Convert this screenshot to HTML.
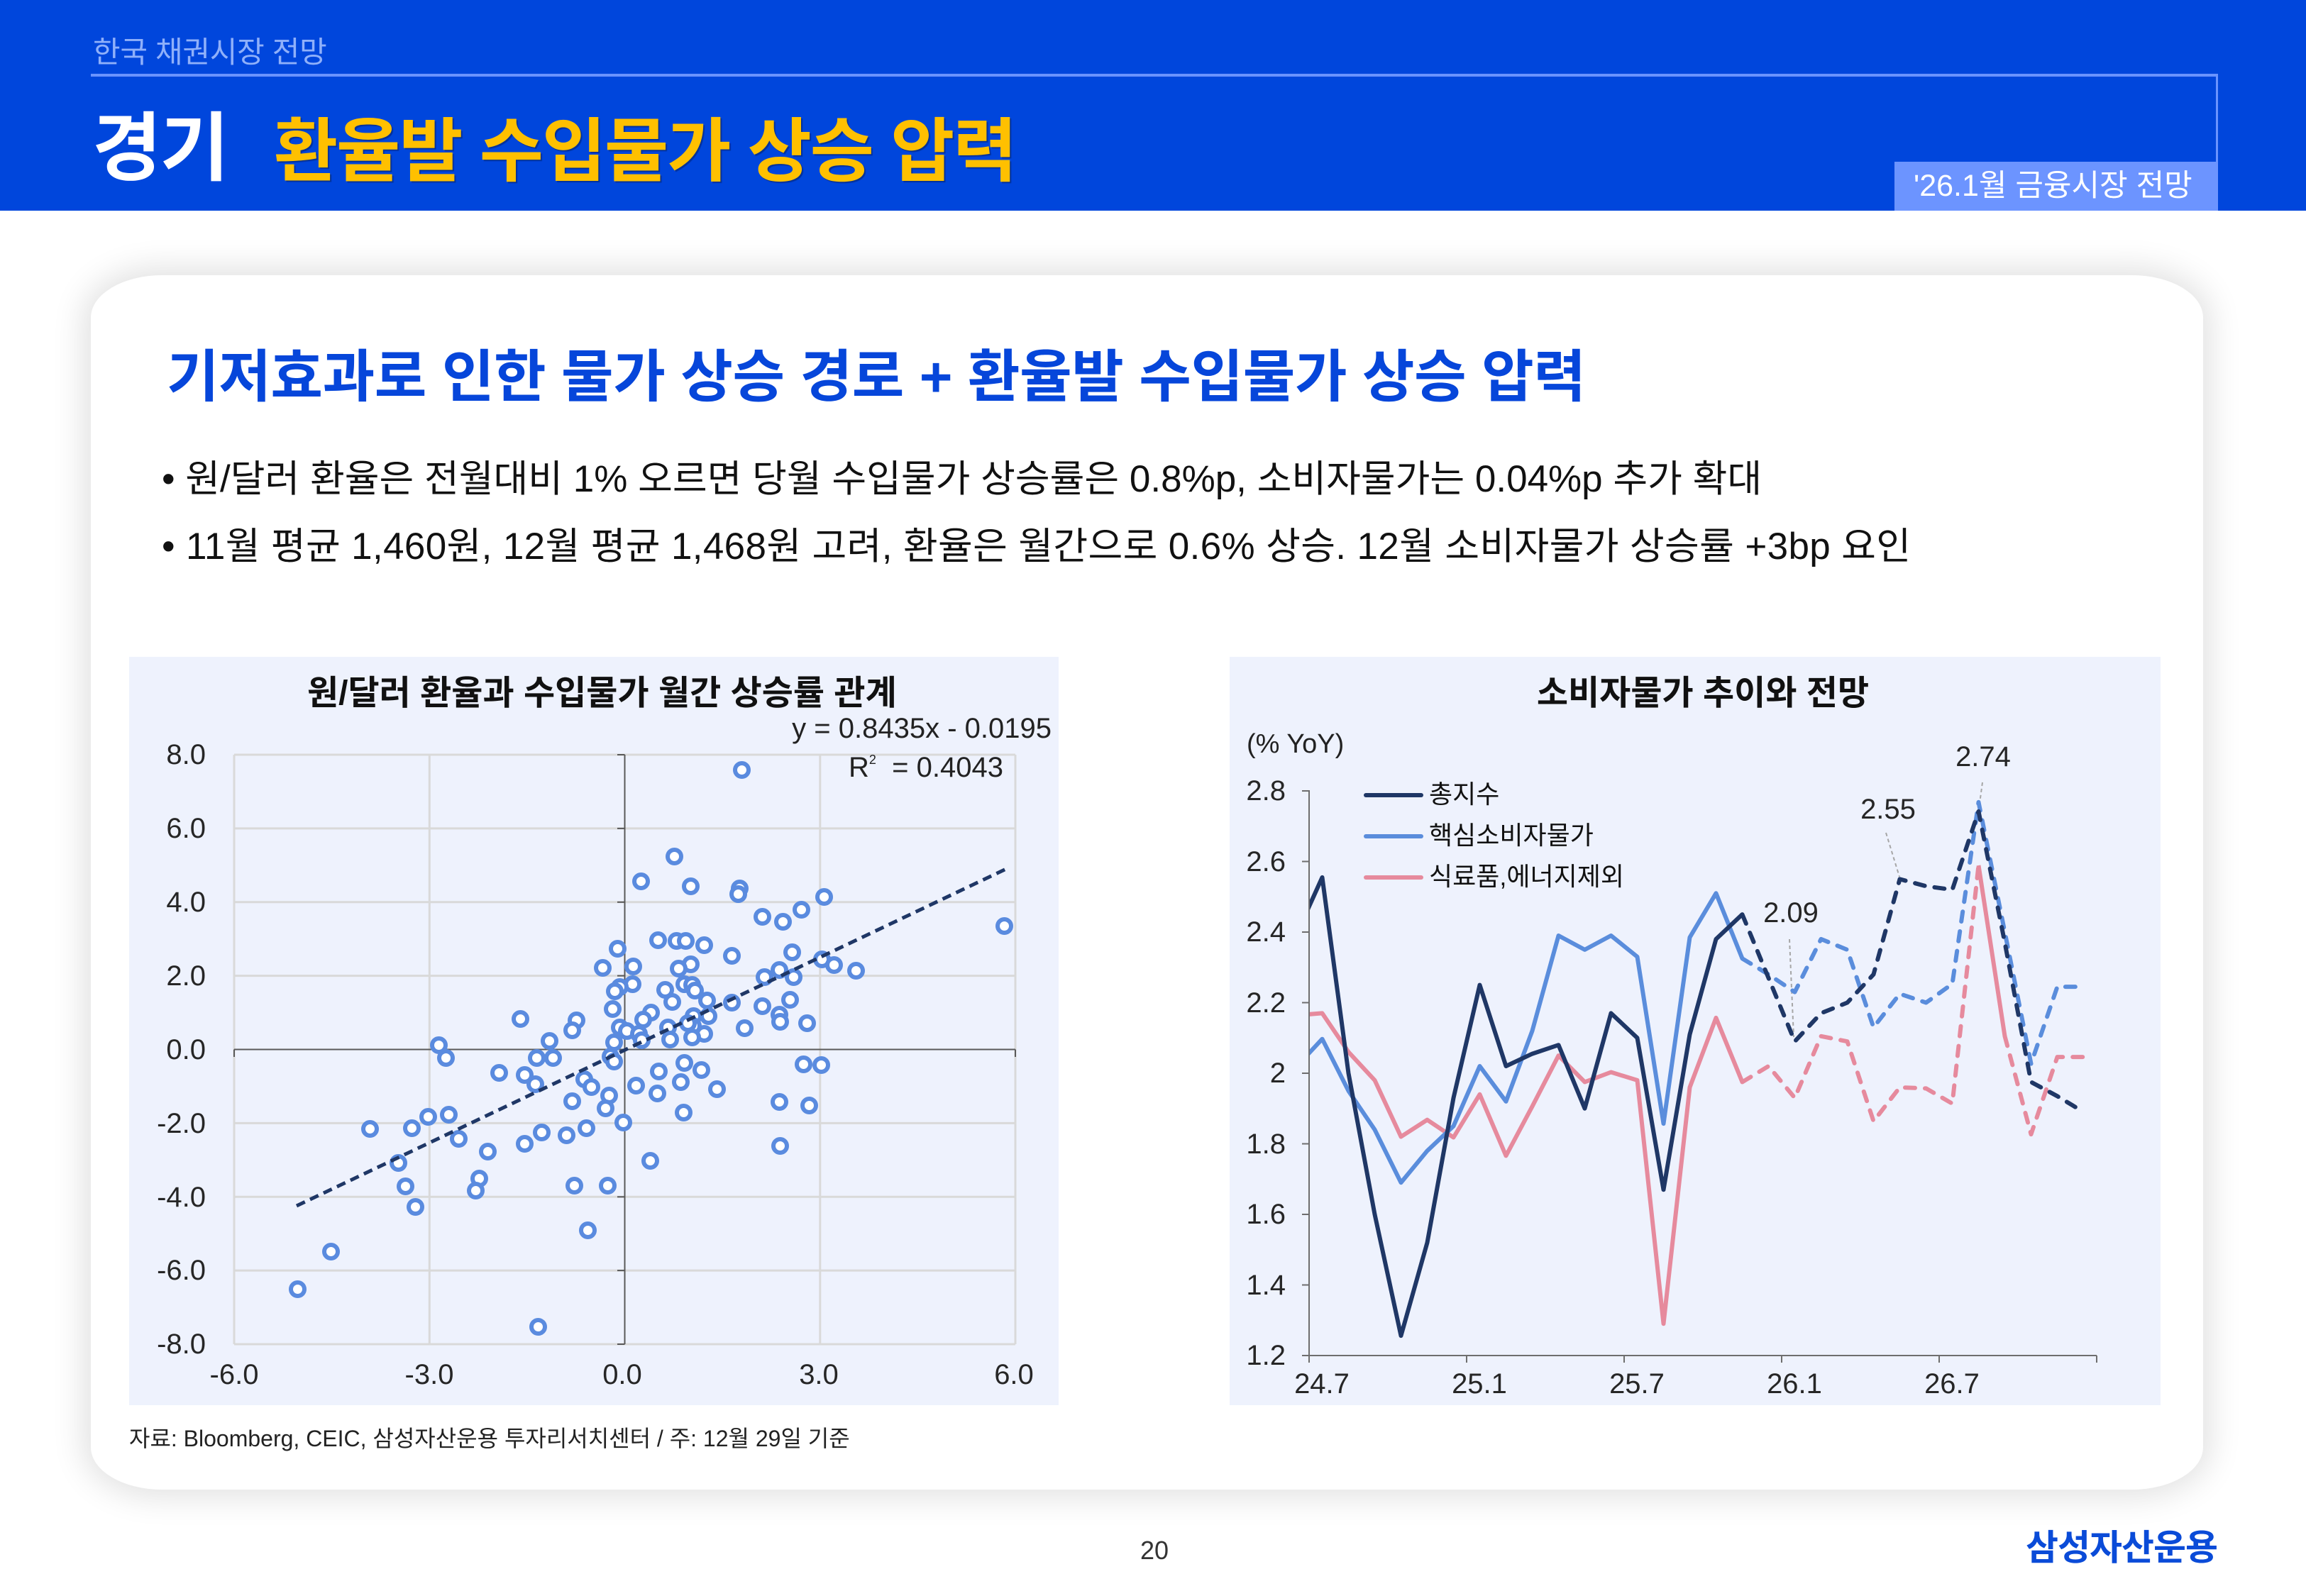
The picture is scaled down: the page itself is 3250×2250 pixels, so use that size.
<!DOCTYPE html>
<html><head><meta charset="utf-8">
<style>
html,body{margin:0;padding:0}
body{width:3250px;height:2250px;position:relative;overflow:hidden;background:#fff;font-family:"Liberation Sans","Noto Sans CJK KR",sans-serif;}
.a{position:absolute;white-space:nowrap;line-height:1;}
.pts i{position:absolute;display:block;width:13px;height:13px;border:6px solid #5A8BDF;border-radius:50%;background:#fff;
left:calc(170px + var(--x) * 0.85459px - 12.5px);top:calc(900px + var(--y) * 0.714286px - 12.5px);}
.yl{position:absolute;line-height:1;font-size:40px;color:#262626;text-align:right;width:160px;}
.xl{position:absolute;line-height:1;font-size:40px;color:#262626;text-align:center;width:160px;}
</style></head>
<body>
<!-- header -->
<div class="a" style="left:0;top:0;width:3250px;height:297px;background:#0046DC;"></div>
<div class="a" style="left:131px;top:53px;font-size:42px;color:#8FB0FA;letter-spacing:-0.3px;">한국 채권시장 전망</div>
<div class="a" style="left:128px;top:104px;width:2998px;height:4px;background:#6A93FF;"></div>
<div class="a" style="left:3123px;top:104px;width:3px;height:124px;background:#6A93FF;"></div>
<div class="a" style="left:2670px;top:228px;width:456px;height:69px;background:#6C94FF;"></div>
<div class="a" style="left:2697px;top:241px;font-size:43px;color:#fff;">'26.1월 금융시장 전망</div>
<div class="a" style="left:130px;top:157px;font-size:106px;font-weight:bold;color:#fff;letter-spacing:-2px;">경기</div>
<div class="a" style="left:386px;top:164px;font-size:98px;font-weight:bold;color:#FFC000;letter-spacing:-2px;text-shadow:2px 2px 1px rgba(0,0,0,0.3);">환율발 수입물가 상승 압력</div>

<!-- card -->
<div class="a" style="left:128px;top:388px;width:2977px;height:1712px;background:#fff;border-radius:100px/60px;box-shadow:0 0 45px 10px rgba(0,0,0,0.12);"></div>

<div class="a" style="left:235px;top:492px;font-size:80px;font-weight:bold;color:#0646DA;letter-spacing:-0.4px;">기저효과로 인한 물가 상승 경로 + 환율발 수입물가 상승 압력</div>
<div class="a" style="left:228px;top:649px;font-size:53px;color:#111;">• 원/달러 환율은 전월대비 1% 오르면 당월 수입물가 상승률은 0.8%p, 소비자물가는 0.04%p 추가 확대</div>
<div class="a" style="left:228px;top:744px;font-size:53px;color:#111;letter-spacing:0.35px;">• 11월 평균 1,460원, 12월 평균 1,468원 고려, 환율은 월간으로 0.6% 상승. 12월 소비자물가 상승률 +3bp 요인</div>

<!-- panels -->
<div class="a" style="left:182px;top:926px;width:1310px;height:1055px;background:#EEF2FD;"></div>
<div class="a" style="left:1733px;top:926px;width:1312px;height:1055px;background:#EEF2FD;"></div>

<!-- graphics under points -->
<svg class="a" style="left:0;top:0" width="3250" height="2250" viewBox="0 0 3250 2250">
  <!-- left grid -->
  <g stroke="#D9D9D9" stroke-width="3" fill="none">
    <line x1="330" y1="1064" x2="1431" y2="1064"/>
    <line x1="330" y1="1167.9" x2="1431" y2="1167.9"/>
    <line x1="330" y1="1271.8" x2="1431" y2="1271.8"/>
    <line x1="330" y1="1375.6" x2="1431" y2="1375.6"/>
    <line x1="330" y1="1583.4" x2="1431" y2="1583.4"/>
    <line x1="330" y1="1687.3" x2="1431" y2="1687.3"/>
    <line x1="330" y1="1791.1" x2="1431" y2="1791.1"/>
    <line x1="330" y1="1895" x2="1431" y2="1895"/>
    <line x1="330" y1="1064" x2="330" y2="1895"/>
    <line x1="605.3" y1="1064" x2="605.3" y2="1895"/>
    <line x1="1155.8" y1="1064" x2="1155.8" y2="1895"/>
    <line x1="1431" y1="1064" x2="1431" y2="1895"/>
  </g>
  <g stroke="#595959" stroke-width="2" fill="none">
    <line x1="330" y1="1479.5" x2="1431" y2="1479.5"/>
    <line x1="880.5" y1="1064" x2="880.5" y2="1895"/>
    <line x1="870" y1="1064" x2="880.5" y2="1064"/>
    <line x1="870" y1="1167.9" x2="880.5" y2="1167.9"/>
    <line x1="870" y1="1271.8" x2="880.5" y2="1271.8"/>
    <line x1="870" y1="1375.6" x2="880.5" y2="1375.6"/>
    <line x1="870" y1="1479.5" x2="880.5" y2="1479.5"/>
    <line x1="870" y1="1583.4" x2="880.5" y2="1583.4"/>
    <line x1="870" y1="1687.3" x2="880.5" y2="1687.3"/>
    <line x1="870" y1="1791.1" x2="880.5" y2="1791.1"/>
    <line x1="870" y1="1895" x2="880.5" y2="1895"/>
    <line x1="330" y1="1479.5" x2="330" y2="1490"/>
    <line x1="1431" y1="1479.5" x2="1431" y2="1490"/>
  </g>

  <!-- right axes -->
  <g stroke="#6E6E6E" stroke-width="2" fill="none">
    <line x1="1845" y1="1114" x2="1845" y2="1911"/>
    <line x1="1845" y1="1911" x2="2955" y2="1911"/>
    <line x1="1835" y1="1115" x2="1845" y2="1115"/>
    <line x1="1835" y1="1214.5" x2="1845" y2="1214.5"/>
    <line x1="1835" y1="1314" x2="1845" y2="1314"/>
    <line x1="1835" y1="1413.5" x2="1845" y2="1413.5"/>
    <line x1="1835" y1="1513" x2="1845" y2="1513"/>
    <line x1="1835" y1="1612.5" x2="1845" y2="1612.5"/>
    <line x1="1835" y1="1712" x2="1845" y2="1712"/>
    <line x1="1835" y1="1811.5" x2="1845" y2="1811.5"/>
    <line x1="1835" y1="1911" x2="1845" y2="1911"/>
    <line x1="1845" y1="1911" x2="1845" y2="1921"/>
    <line x1="2067" y1="1911" x2="2067" y2="1921"/>
    <line x1="2289" y1="1911" x2="2289" y2="1921"/>
    <line x1="2511" y1="1911" x2="2511" y2="1921"/>
    <line x1="2733" y1="1911" x2="2733" y2="1921"/>
    <line x1="2955" y1="1911" x2="2955" y2="1921"/>
  </g>

  <!-- leader lines -->
  <g stroke="#A6A6A6" stroke-width="2" stroke-dasharray="5 4" fill="none">
    <line x1="2522" y1="1324" x2="2528" y2="1462"/>
    <line x1="2658" y1="1174" x2="2677" y2="1236"/>
    <line x1="2794" y1="1103" x2="2789" y2="1140"/>
  </g>

  <defs><clipPath id="rc"><rect x="1846" y="1040" width="1120" height="880"/></clipPath></defs>
  <g clip-path="url(#rc)" fill="none" stroke-width="6" stroke-linejoin="round">
    <!-- pink -->
    <g stroke="#E68A9D">
      <path d="M1826.5,1431.4 L1863.5,1428.4 L1900.5,1483.1 L1937.5,1522.9 L1974.5,1602.5 L2011.5,1578.7 L2048.5,1603.5 L2085.5,1542.8 L2122.5,1629.4 L2159.5,1559.8 L2196.5,1488.1 L2233.5,1525.4 L2270.5,1511.5 L2307.5,1522.9 L2344.5,1866.2 L2381.5,1532.9 L2418.5,1434.9 L2455.5,1525.4"/>
      <path d="M2455.5,1525.4 L2492.5,1503 L2529.5,1547.8 L2566.5,1460.8 L2603.5,1468.2 L2640.5,1580.7 L2677.5,1532.9 L2714.5,1534.4 L2751.5,1555.8 L2788.5,1220" stroke-dasharray="14 14" stroke-linecap="round"/>
      <path d="M2788.5,1220 L2825.5,1460.8"/>
      <path d="M2825.5,1460.8 L2862.5,1599.1 L2899.5,1490.1 L2936.5,1490.1" stroke-dasharray="14 14" stroke-linecap="round"/>
    </g>
    <!-- light blue -->
    <g stroke="#5A8DDC">
      <path d="M1826.5,1504.5 L1863.5,1464.7 L1900.5,1537.9 L1937.5,1592.6 L1974.5,1667.2 L2011.5,1622.4 L2048.5,1587.6 L2085.5,1503 L2122.5,1552.8 L2159.5,1453.3 L2196.5,1319 L2233.5,1338.9 L2270.5,1319 L2307.5,1348.8 L2344.5,1584.1 L2381.5,1321.5 L2418.5,1259.3 L2455.5,1351.3"/>
      <path d="M2455.5,1351.3 L2492.5,1373.7 L2529.5,1398.6 L2566.5,1323.9 L2603.5,1338.9 L2640.5,1448.3 L2677.5,1401.1 L2714.5,1413.5 L2751.5,1387.1 L2788.5,1130.9 L2825.5,1314 L2862.5,1499.6 L2899.5,1391.1 L2936.5,1391.1" stroke-dasharray="14 14" stroke-linecap="round"/>
    </g>
    <!-- navy -->
    <g stroke="#1F3766">
      <path d="M1826.5,1319 L1863.5,1236.9 L1900.5,1513 L1937.5,1712 L1974.5,1883.1 L2011.5,1751.8 L2048.5,1547.8 L2085.5,1388.6 L2122.5,1503 L2159.5,1485.6 L2196.5,1473.2 L2233.5,1562.7 L2270.5,1428.4 L2307.5,1463.2 L2344.5,1677.2 L2381.5,1458.3 L2418.5,1323.9 L2455.5,1289.1"/>
      <path d="M2455.5,1289.1 L2492.5,1378.7 L2529.5,1468.2 L2566.5,1428.4 L2603.5,1413.5 L2640.5,1373.7 L2677.5,1239.4 L2714.5,1249.3 L2751.5,1254.3 L2788.5,1143.9 L2825.5,1328.9 L2862.5,1525.4 L2899.5,1545.3 L2936.5,1567.7" stroke-dasharray="14 14" stroke-linecap="round"/>
    </g>
  </g>

  <!-- legend lines -->
  <g stroke-width="6" stroke-linecap="round">
    <line x1="1925" y1="1121" x2="2003" y2="1121" stroke="#1F3766"/>
    <line x1="1925" y1="1179" x2="2003" y2="1179" stroke="#5A8DDC"/>
    <line x1="1925" y1="1237" x2="2003" y2="1237" stroke="#E68A9D"/>
  </g>
</svg>

<!-- scatter points -->
<div class="pts">
<i style="--x:1025;--y:260"></i><i style="--x:913;--y:430"></i><i style="--x:858;--y:480"></i><i style="--x:940;--y:489"></i>
<i style="--x:1021;--y:493"></i><i style="--x:1019;--y:505"></i><i style="--x:1160;--y:510"></i><i style="--x:1058;--y:549"></i>
<i style="--x:1092;--y:559"></i><i style="--x:1123;--y:535"></i><i style="--x:1457;--y:567"></i><i style="--x:886;--y:595"></i>
<i style="--x:917;--y:597"></i><i style="--x:932;--y:597"></i><i style="--x:962;--y:606"></i><i style="--x:820;--y:613"></i>
<i style="--x:1008;--y:626"></i><i style="--x:1107;--y:620"></i><i style="--x:845;--y:648"></i><i style="--x:795;--y:650"></i>
<i style="--x:940;--y:643"></i><i style="--x:920;--y:652"></i><i style="--x:1157;--y:634"></i><i style="--x:1177;--y:644"></i>
<i style="--x:1213;--y:656"></i><i style="--x:1086;--y:655"></i><i style="--x:1062;--y:669"></i><i style="--x:1110;--y:668"></i>
<i style="--x:844;--y:682"></i><i style="--x:823;--y:688"></i><i style="--x:815;--y:697"></i><i style="--x:898;--y:694"></i>
<i style="--x:930;--y:683"></i><i style="--x:942;--y:684"></i><i style="--x:947;--y:695"></i><i style="--x:910;--y:718"></i>
<i style="--x:967;--y:715"></i><i style="--x:1008;--y:719"></i><i style="--x:1058;--y:726"></i><i style="--x:1104;--y:713"></i>
<i style="--x:812;--y:731"></i><i style="--x:875;--y:738"></i><i style="--x:862;--y:752"></i><i style="--x:659;--y:751"></i>
<i style="--x:752;--y:754"></i><i style="--x:745;--y:773"></i><i style="--x:1087;--y:743"></i><i style="--x:1088;--y:757"></i>
<i style="--x:1132;--y:760"></i><i style="--x:945;--y:745"></i><i style="--x:969;--y:746"></i><i style="--x:944;--y:765"></i>
<i style="--x:823;--y:768"></i><i style="--x:835;--y:775"></i><i style="--x:855;--y:780"></i><i style="--x:903;--y:768"></i>
<i style="--x:1029;--y:769"></i><i style="--x:962;--y:780"></i><i style="--x:942;--y:788"></i><i style="--x:860;--y:793"></i>
<i style="--x:906;--y:791"></i><i style="--x:707;--y:795"></i><i style="--x:814;--y:797"></i><i style="--x:525;--y:803"></i>
<i style="--x:536;--y:828"></i><i style="--x:686;--y:828"></i><i style="--x:713;--y:828"></i><i style="--x:808;--y:825"></i>
<i style="--x:814;--y:835"></i><i style="--x:930;--y:838"></i><i style="--x:958;--y:852"></i><i style="--x:1126;--y:841"></i>
<i style="--x:1156;--y:842"></i><i style="--x:624;--y:858"></i><i style="--x:666;--y:861"></i><i style="--x:888;--y:855"></i>
<i style="--x:684;--y:880"></i><i style="--x:765;--y:870"></i><i style="--x:776;--y:885"></i><i style="--x:924;--y:875"></i>
<i style="--x:850;--y:882"></i><i style="--x:984;--y:889"></i><i style="--x:885;--y:898"></i><i style="--x:806;--y:902"></i>
<i style="--x:745;--y:913"></i><i style="--x:1087;--y:915"></i><i style="--x:1136;--y:922"></i><i style="--x:800;--y:928"></i>
<i style="--x:928;--y:936"></i><i style="--x:541;--y:940"></i><i style="--x:507;--y:944"></i><i style="--x:829;--y:956"></i>
<i style="--x:411;--y:968"></i><i style="--x:480;--y:966"></i><i style="--x:768;--y:967"></i><i style="--x:694;--y:975"></i>
<i style="--x:735;--y:981"></i><i style="--x:558;--y:987"></i><i style="--x:666;--y:998"></i><i style="--x:1088;--y:1002"></i>
<i style="--x:605;--y:1013"></i><i style="--x:458;--y:1035"></i><i style="--x:874;--y:1031"></i><i style="--x:592;--y:1066"></i>
<i style="--x:470;--y:1081"></i><i style="--x:586;--y:1090"></i><i style="--x:748;--y:1080"></i><i style="--x:803;--y:1080"></i>
<i style="--x:486;--y:1122"></i><i style="--x:770;--y:1168"></i><i style="--x:347;--y:1210"></i><i style="--x:292;--y:1285"></i>
<i style="--x:689;--y:1359"></i><i style="--x:935;--y:759"></i>
</div>

<!-- trend line -->
<svg class="a" style="left:0;top:0" width="3250" height="2250" viewBox="0 0 3250 2250">
  <line x1="418" y1="1700" x2="1418" y2="1225" stroke="#1F3766" stroke-width="5" stroke-dasharray="13 8"/>
</svg>

<!-- left chart text -->
<div class="a" style="left:433px;top:954px;width:800px;text-align:center;font-size:48px;font-weight:bold;color:#111;">원/달러 환율과 수입물가 월간 상승률 관계</div>
<div class="a" style="left:1082px;top:1007px;width:400px;text-align:right;font-size:40px;color:#222;">y = 0.8435x - 0.0195</div>
<div class="a" style="left:1196px;top:1062px;font-size:40px;color:#222;">R<sup style="font-size:18px;vertical-align:18px;">2</sup>&nbsp; = 0.4043</div>

<div class="yl" style="left:130px;top:1044px;">8.0</div>
<div class="yl" style="left:130px;top:1148px;">6.0</div>
<div class="yl" style="left:130px;top:1252px;">4.0</div>
<div class="yl" style="left:130px;top:1356px;">2.0</div>
<div class="yl" style="left:130px;top:1460px;">0.0</div>
<div class="yl" style="left:130px;top:1564px;">-2.0</div>
<div class="yl" style="left:130px;top:1668px;">-4.0</div>
<div class="yl" style="left:130px;top:1771px;">-6.0</div>
<div class="yl" style="left:130px;top:1875px;">-8.0</div>

<div class="xl" style="left:250px;top:1918px;">-6.0</div>
<div class="xl" style="left:525px;top:1918px;">-3.0</div>
<div class="xl" style="left:797px;top:1918px;">0.0</div>
<div class="xl" style="left:1074px;top:1918px;">3.0</div>
<div class="xl" style="left:1349px;top:1918px;">6.0</div>

<!-- right chart text -->
<div class="a" style="left:2000px;top:954px;width:800px;text-align:center;font-size:48px;font-weight:bold;color:#111;">소비자물가 추이와 전망</div>
<div class="a" style="left:1757px;top:1030px;font-size:38px;color:#222;">(% YoY)</div>
<div class="yl" style="left:1652px;top:1095px;">2.8</div>
<div class="yl" style="left:1652px;top:1195px;">2.6</div>
<div class="yl" style="left:1652px;top:1294px;">2.4</div>
<div class="yl" style="left:1652px;top:1394px;">2.2</div>
<div class="yl" style="left:1652px;top:1493px;">2</div>
<div class="yl" style="left:1652px;top:1593px;">1.8</div>
<div class="yl" style="left:1652px;top:1692px;">1.6</div>
<div class="yl" style="left:1652px;top:1792px;">1.4</div>
<div class="yl" style="left:1652px;top:1891px;">1.2</div>

<div class="xl" style="left:1783px;top:1931px;">24.7</div>
<div class="xl" style="left:2005px;top:1931px;">25.1</div>
<div class="xl" style="left:2227px;top:1931px;">25.7</div>
<div class="xl" style="left:2449px;top:1931px;">26.1</div>
<div class="xl" style="left:2671px;top:1931px;">26.7</div>

<div class="xl" style="left:2444px;top:1267px;">2.09</div>
<div class="xl" style="left:2581px;top:1121px;">2.55</div>
<div class="xl" style="left:2715px;top:1047px;">2.74</div>

<div class="a" style="left:2014px;top:1102px;font-size:36px;color:#111;">총지수</div>
<div class="a" style="left:2014px;top:1160px;font-size:36px;color:#111;">핵심소비자물가</div>
<div class="a" style="left:2014px;top:1218px;font-size:36px;color:#111;">식료품,에너지제외</div>

<!-- footer -->
<div class="a" style="left:182px;top:2012px;font-size:32px;color:#222;">자료: Bloomberg, CEIC, 삼성자산운용 투자리서치센터 / 주: 12월 29일 기준</div>
<div class="a" style="left:1587px;top:2168px;width:80px;text-align:center;font-size:36px;color:#333;">20</div>
<div class="a" style="left:2855px;top:2157px;font-size:50px;font-weight:bold;color:#0A4BD8;letter-spacing:-1px;">삼성자산운용</div>
</body></html>
